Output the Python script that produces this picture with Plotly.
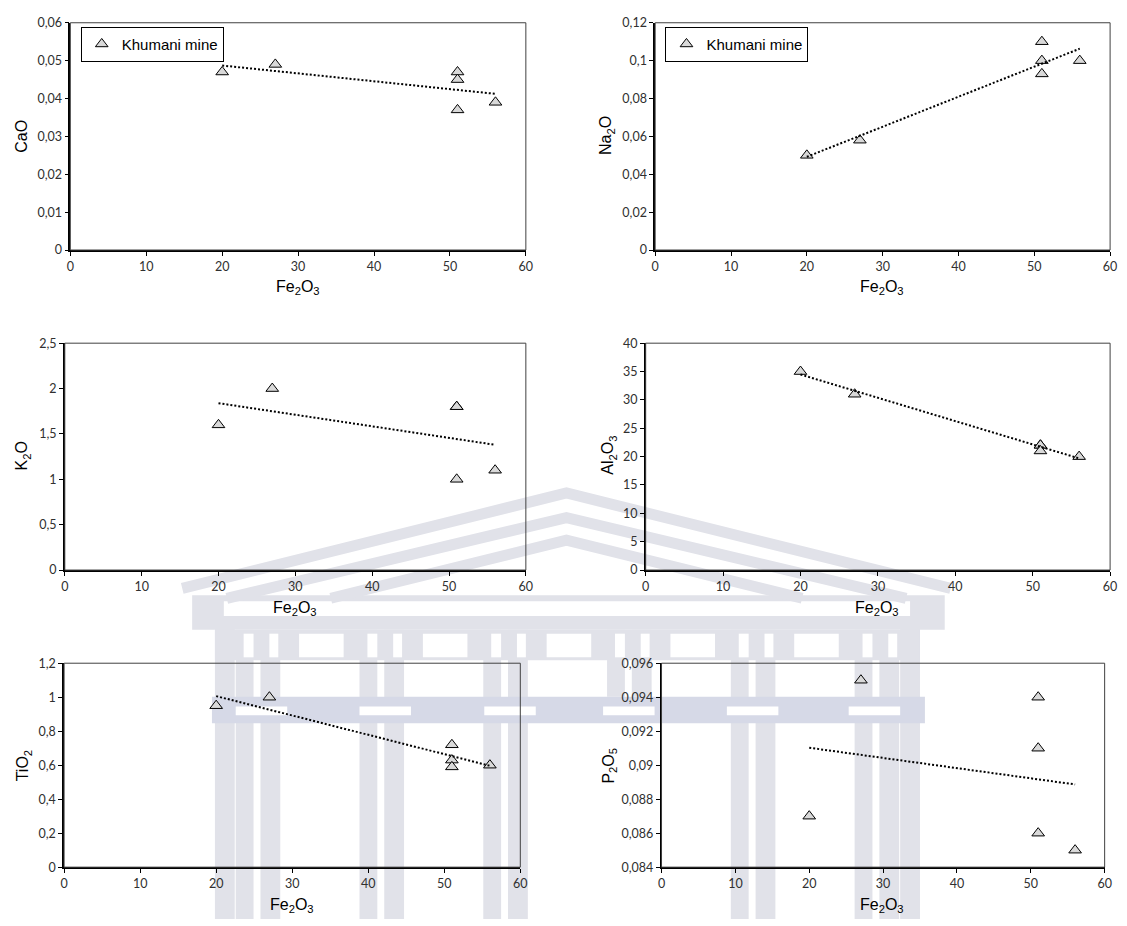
import numpy as np
import plotly.graph_objects as go

# ---------------- data ----------------
fe2o3 = [20, 27, 51, 51, 51, 56]
cao = [0.047, 0.049, 0.047, 0.045, 0.037, 0.039]
na2o = [0.050, 0.058, 0.110, 0.100, 0.093, 0.100]
k2o = [1.6, 2.0, 1.8, 1.8, 1.0, 1.1]
al2o3 = [35, 31, 22, 22, 21, 20]
tio2 = [0.95, 1.00, 0.72, 0.63, 0.59, 0.60]
p2o5 = [0.087, 0.095, 0.094, 0.091, 0.086, 0.085]

series_name = "Khumani mine"
x_title = "Fe<sub>2</sub>O<sub>3</sub>"
y_titles = ["CaO", "Na<sub>2</sub>O", "K<sub>2</sub>O", "Al<sub>2</sub>O<sub>3</sub>",
            "TiO<sub>2</sub>", "P<sub>2</sub>O<sub>5</sub>"]
y_values = [cao, na2o, k2o, al2o3, tio2, p2o5]
y_ranges = [[0, 0.06], [0, 0.12], [0, 2.5], [0, 40], [0, 1.2], [0.084, 0.096]]
y_dticks = [0.01, 0.02, 0.5, 5, 0.2, 0.002]
x_range = [0, 60]
x_dtick = 10

# ---------------- layout geometry (pixels) ----------------
W, H = 1127, 926
def px(x):
    return x / W
def py(y):
    return 1 - y / H

panels = [  # x0, x1, y0(top), y1(bottom)
    (67.0, 527.0, 15.0, 246.0),
    (657.6, 1117.0, 15.0, 246.0),
    (61.4, 527.0, 340.7, 571.3),
    (648.0, 1117.0, 340.7, 571.3),
    (60.7, 521.4, 666.0, 873.3),
    (664.0, 1111.5, 666.0, 873.3),
]
ytitle_pos = [(18, 130), (609, 130), (19, 455), (611, 455), (20, 770), (611, 770)]
xtitle_pos = [(297, 284), (887, 284), (294, 610), (882, 610), (291, 912), (887, 912)]
legend_pos = [(77.5, 19), (668, 19)]

TICK_FONT = dict(family="Lato, 'Open Sans', sans-serif", size=12.5, color="#303030")
TITLE_FONT = dict(family="'Liberation Sans', Arial, sans-serif", size=16, color="#000000")

fig = go.Figure()
layout = dict(
    width=W, height=H,
    margin=dict(l=0, r=0, t=0, b=0),
    paper_bgcolor="white",
    plot_bgcolor="rgba(0,0,0,0)",
    separators=",.",
    showlegend=True,
)

shapes = []
# ---------------- faint background watermark (building) ----------------
G = "#e1e2e9"
B = "#d6d9e7"
def rect(x0, y0, x1, y1, color):
    shapes.append(dict(type="rect", xref="paper", yref="paper",
                       x0=px(x0), x1=px(x1), y0=py(y1), y1=py(y0),
                       fillcolor=color, line=dict(width=0), layer="below"))

col_starts = [234, 359, 484, 609, 734, 859]
# columns
for p in col_starts:
    ybot = 700 if p == 609 else 926
    rect(p, 632, p + 18, ybot, G)
    rect(p + 25, 632, p + 45, ybot, G)
# side pillars
rect(213, 600, 233, 926, G)
rect(905, 600, 925, 926, G)
# upper colonnade band with slits
rect(213, 632, 925, 663, G)
for p in col_starts:
    rect(p + 8, 636, p + 18, 660, "white")
    rect(p + 34, 636, p + 43, 660, "white")
    if p + 109 < 905:
        rect(p + 64, 636, p + 109, 660, "white")
# entablature band
rect(210, 700, 930, 727, B)
for p in [234, 359, 485, 605, 730, 853]:
    rect(p, 710, p + 52, 719, "white")
# cornice
rect(190, 597, 950, 632, G)
rect(222, 603, 915, 618, "white")
# roof chevrons
for pts in [[(180, 590), (568, 493), (956, 590)],
            [(225, 600), (568, 518), (911, 600)],
            [(330, 600), (568, 541), (806, 600)]]:
    path = "M " + " L ".join(f"{px(a):.5f},{py(b):.5f}" for a, b in pts)
    shapes.append(dict(type="path", xref="paper", yref="paper", path=path,
                       line=dict(color=G, width=11), layer="below"))

annotations = []
for i, (yv, yt, yr, ydt) in enumerate(zip(y_values, y_titles, y_ranges, y_dticks)):
    n = i + 1
    xa = "x" if n == 1 else f"x{n}"
    ya = "y" if n == 1 else f"y{n}"
    x0, x1, t, b = panels[i]
    layout["xaxis" if n == 1 else f"xaxis{n}"] = dict(
        domain=[px(x0), px(x1)], anchor=ya, range=x_range, dtick=x_dtick,
        showgrid=False, zeroline=False, showline=True, linecolor="black", linewidth=1.5,
        ticks="outside", ticklen=4, tickwidth=1, tickcolor="black",
        tickfont=TICK_FONT, fixedrange=True,
    )
    layout["yaxis" if n == 1 else f"yaxis{n}"] = dict(
        domain=[py(b), py(t)], anchor=xa, range=yr, dtick=ydt,
        showgrid=False, zeroline=False, showline=True, linecolor="black", linewidth=1.5,
        ticks="outside", ticklen=4, tickwidth=1, tickcolor="black",
        tickfont=TICK_FONT, fixedrange=True,
    )
    # plot-area box
    shapes.append(dict(type="rect", xref=f"{xa} domain", yref=f"{ya} domain",
                       x0=0, x1=1, y0=0, y1=1, line=dict(color="#404040", width=1),
                       fillcolor="rgba(0,0,0,0)", layer="above"))

    leg = None
    if i < 2:
        leg = "legend" if i == 0 else "legend2"
    fig.add_trace(go.Scatter(
        x=fe2o3, y=yv, mode="markers", name=series_name,
        marker=dict(symbol="triangle-up", size=11, color="#d9d9d9",
                    line=dict(color="black", width=1)),
        xaxis=xa, yaxis=ya, showlegend=leg is not None,
        legend=leg if leg else "legend",
    ))
    # linear trend line (least squares fit of the data)
    slope, icpt = np.polyfit(fe2o3, yv, 1)
    xs = [min(fe2o3), max(fe2o3)]
    fig.add_trace(go.Scatter(
        x=xs, y=[slope * v + icpt for v in xs], mode="lines",
        line=dict(color="black", width=2, dash="2px,2px"),
        xaxis=xa, yaxis=ya, showlegend=False, hoverinfo="skip",
    ))

    yx, yy = ytitle_pos[i]
    annotations.append(dict(text=yt, xref="paper", yref="paper", x=px(yx), y=py(yy),
                            xanchor="center", yanchor="middle", textangle=-90,
                            showarrow=False, font=TITLE_FONT))
    xx, xy = xtitle_pos[i]
    annotations.append(dict(text=x_title, xref="paper", yref="paper", x=px(xx), y=py(xy),
                            xanchor="center", yanchor="middle",
                            showarrow=False, font=TITLE_FONT))

for k, (lx, ly) in enumerate(legend_pos):
    layout["legend" if k == 0 else "legend2"] = dict(
        x=px(lx), y=py(ly), xanchor="left", yanchor="top",
        bgcolor="white", bordercolor="black", borderwidth=1,
        font=dict(family="'Liberation Sans', Arial, sans-serif", size=15, color="black"),
        tracegroupgap=0, itemwidth=30,
    )

layout["shapes"] = shapes
layout["annotations"] = annotations
fig.update_layout(**layout)

fig.write_html("out.html", config={"displayModeBar": False},
               post_script="document.body.style.margin='0';document.body.style.overflow='hidden';")
